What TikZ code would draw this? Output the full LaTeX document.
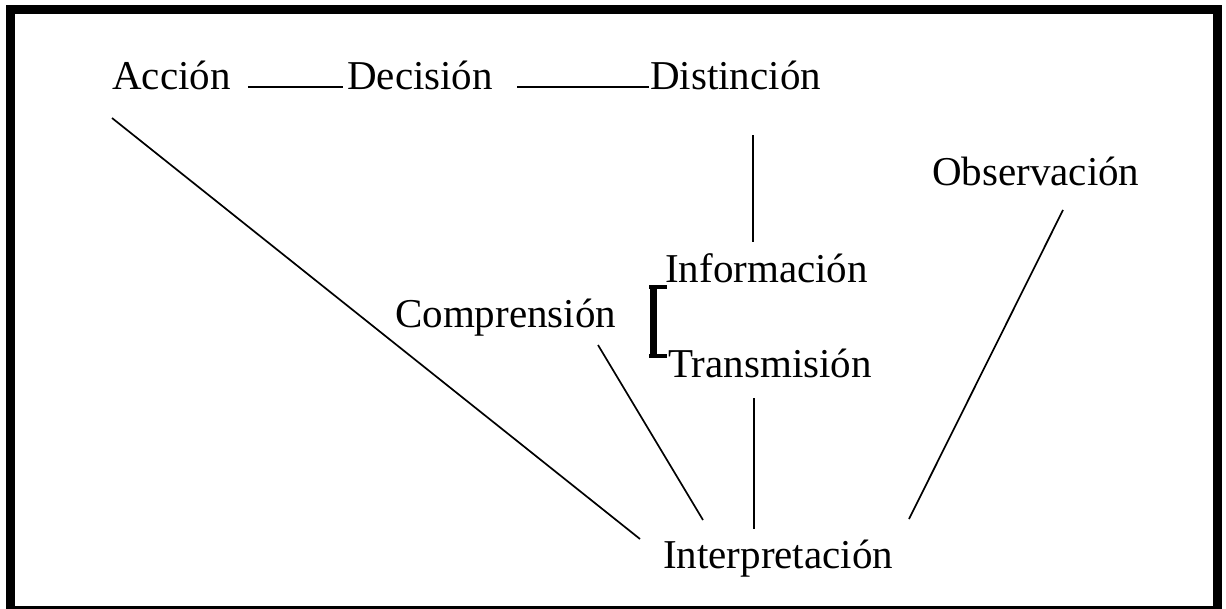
\documentclass[tikz,border=0pt]{standalone}
\usepackage{fontspec}
\setmainfont{Liberation Serif}
\usetikzlibrary{calc}

\begin{document}
\begin{tikzpicture}[
    x=1pt, y=-1pt,
    word/.style={anchor=base west, inner sep=0pt, font=\fontsize{41}{49}\selectfont},
    link/.style={line width=1.7pt},
    frame/.style={line width=9pt}
]
    \useasboundingbox (0,0) rectangle (1226,608);
    \draw[frame] (10,9.5) rectangle (1217.5,610);

    \node[word] (accion) at (112,89) {Acción};
    \node[word] (decision) at (347,89) {Decisión};
    \node[word] (distincion) at (650,89) {Distinción};
    \node[word] (observacion) at (932,185) {Observación};
    \node[word] (informacion) at (665,282) {Información};
    \node[word] (comprension) at (395,327) {Comprensión};
    \node[word] (transmision) at (668,377) {Transmisión};
    \node[word] (interpretacion) at (663,568) {Interpretación};

    \draw[link] ($(accion.base east)+(17,-2)$) -- ($(decision.base west)+(-4,-2)$);
    \draw[link] ($(decision.base east)+(24,-2)$) -- ($(distincion.base west)+(-1,-2)$);
    \draw[link] ($(distincion.base west)+(103,46)$) -- ($(informacion.base west)+(88,-40)$);
    \draw[link] ($(transmision.base west)+(86,21)$) -- ($(interpretacion.base west)+(91,-39)$);
    \draw[link] ($(accion.base west)+(0,29)$) -- ($(interpretacion.base west)+(-23,-29)$);
    \draw[link] ($(comprension.base west)+(203,18)$) -- ($(interpretacion.base west)+(40,-48)$);
    \draw[link] ($(observacion.base west)+(131,25)$) -- ($(interpretacion.base west)+(246,-49)$);

    \draw[line width=7pt] ($(informacion.base west)+(-12,3)$) -- ($(transmision.base west)+(-15,-19)$);
    \draw[line width=4pt] ($(informacion.base west)+(-16,5)$) -- ($(informacion.base west)+(2,5)$);
    \draw[line width=4pt] ($(transmision.base west)+(-19,-21)$) -- ($(transmision.base west)+(-1,-21)$);
\end{tikzpicture}
\end{document}
